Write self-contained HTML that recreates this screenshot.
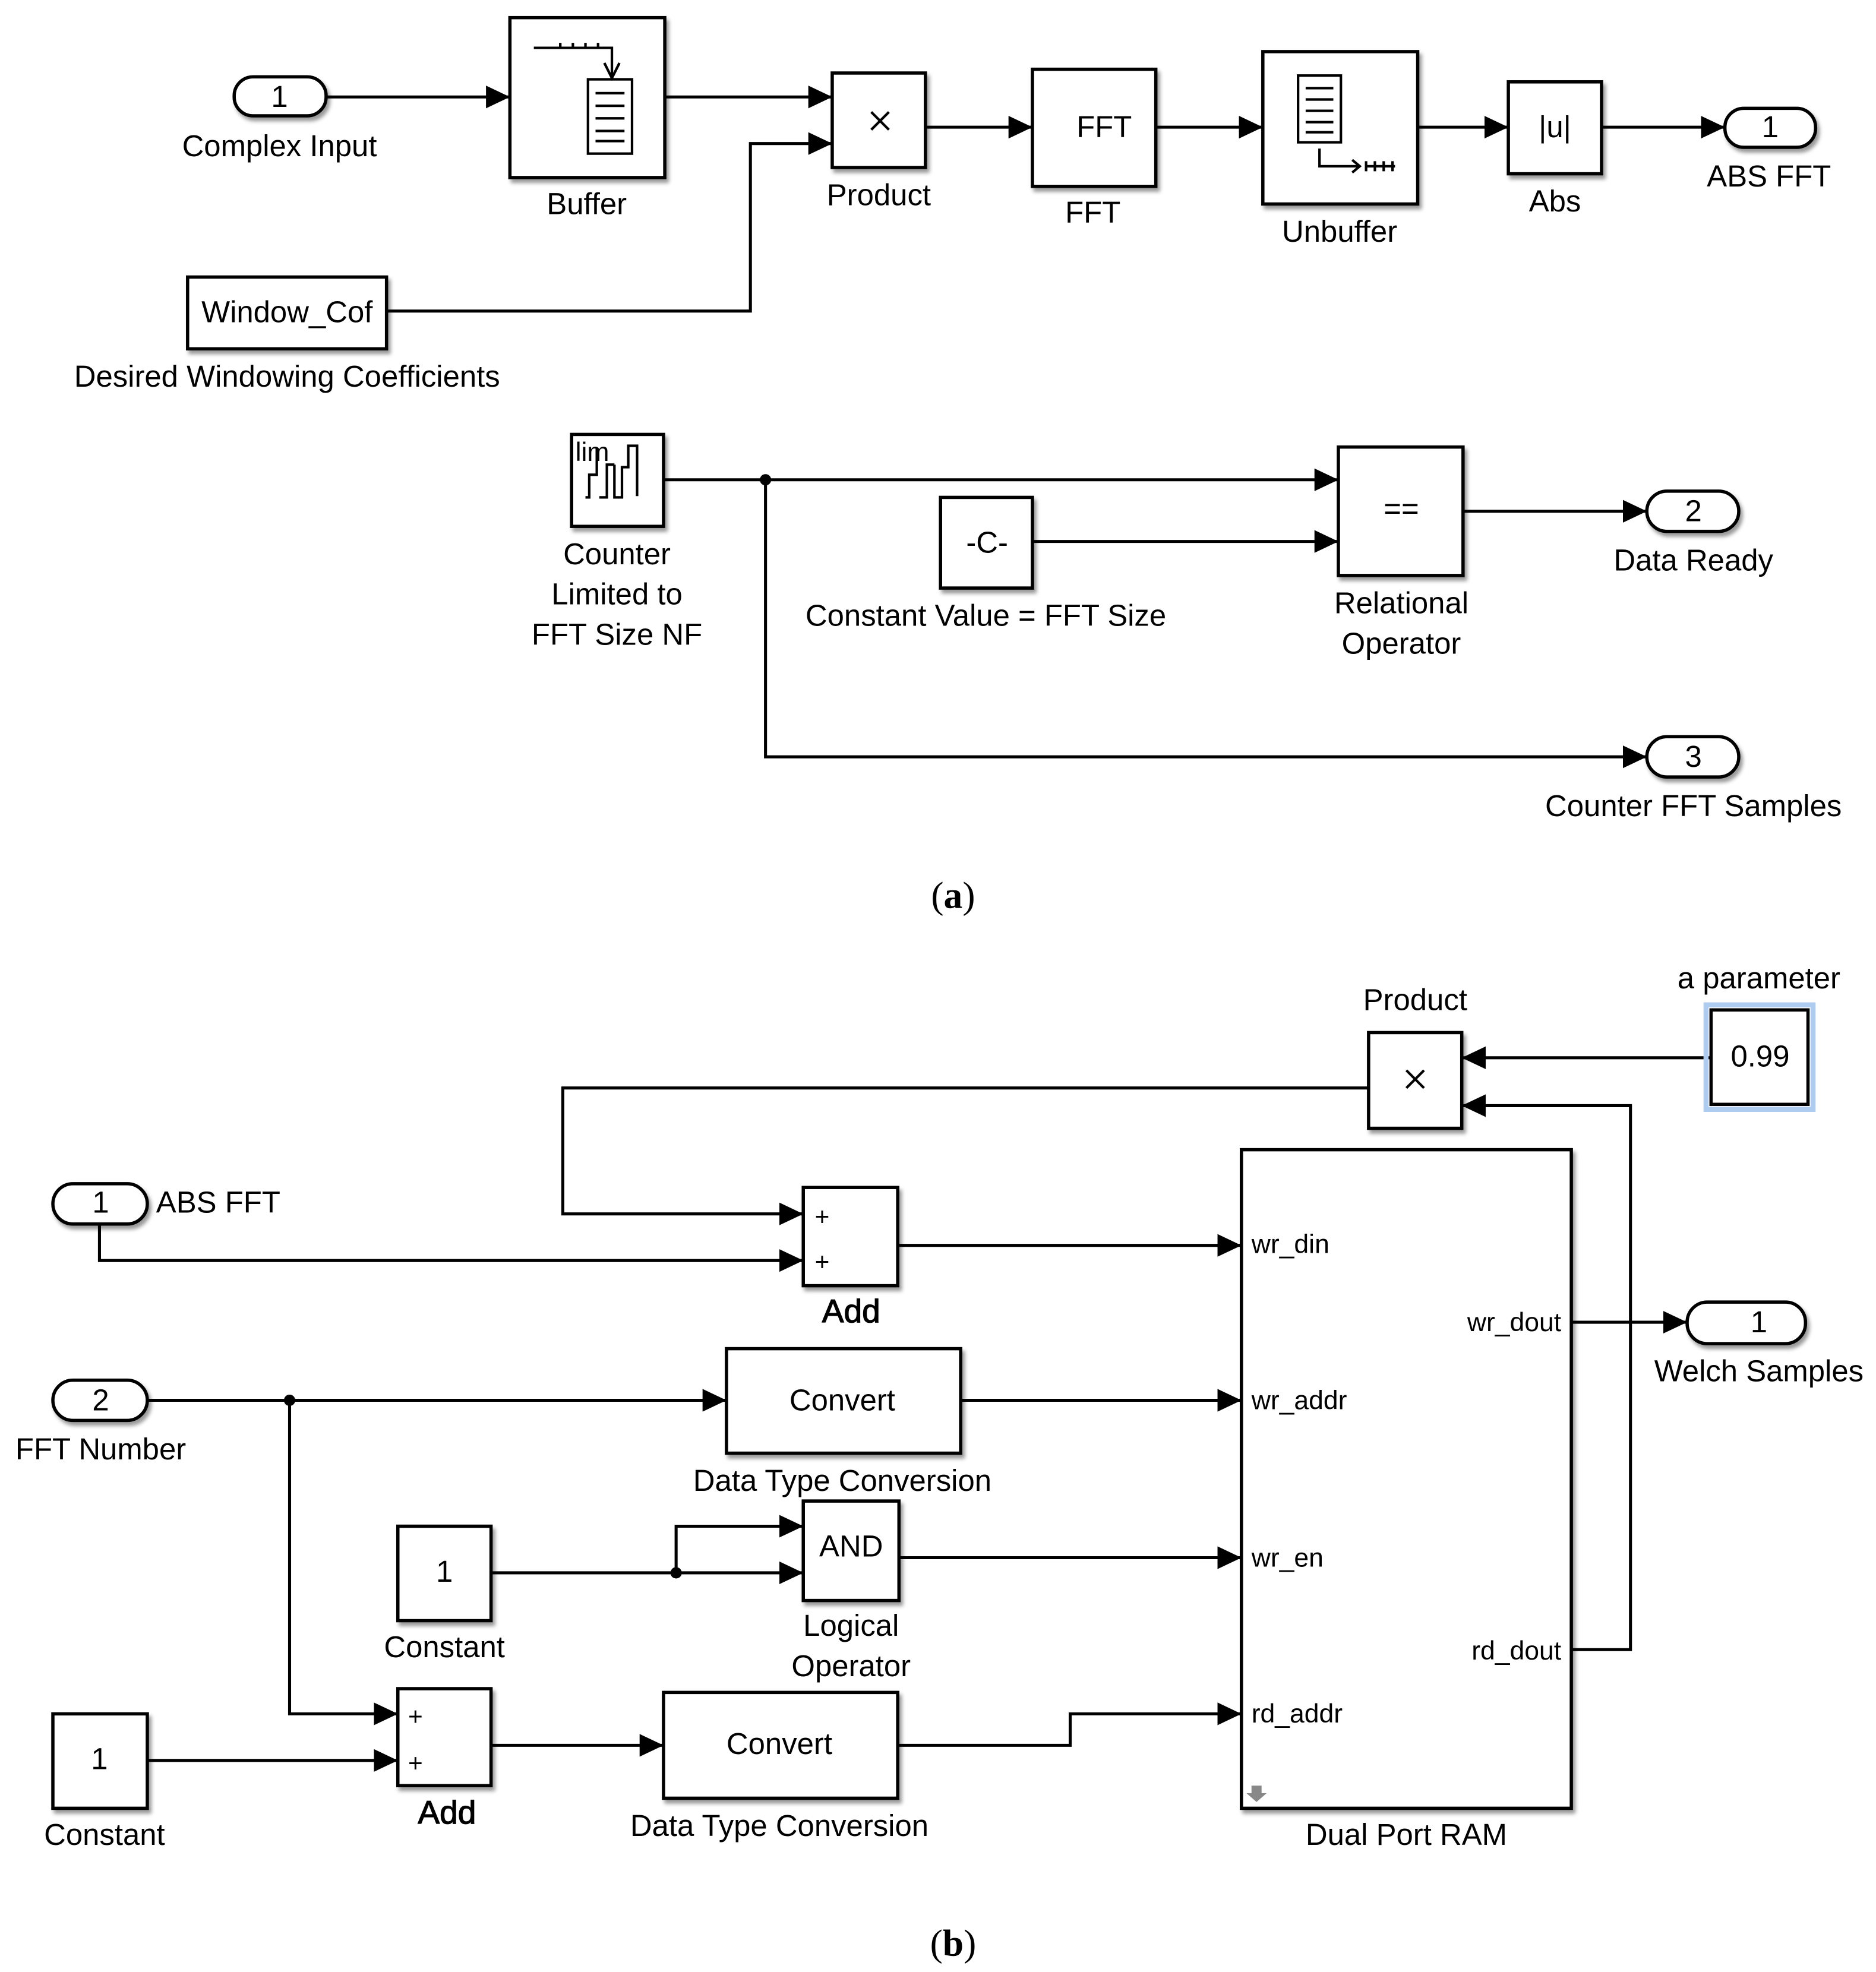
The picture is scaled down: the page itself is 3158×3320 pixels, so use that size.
<!DOCTYPE html>
<html><head><meta charset="utf-8"><style>html,body{margin:0;padding:0;background:#fff}svg{display:block}</style></head><body>
<svg xmlns="http://www.w3.org/2000/svg" width="3158" height="3320" viewBox="0 0 1490 1566" preserveAspectRatio="none" font-family="'Liberation Sans', Arial, sans-serif">
<defs>
<marker id="ar" markerUnits="userSpaceOnUse" markerWidth="20" markerHeight="20" refX="19" refY="10" orient="auto"><path d="M0,1 L19,10 L0,19 Z" fill="#000"/></marker>
<filter id="sh" x="-10%" y="-10%" width="130%" height="130%"><feDropShadow dx="2" dy="3" stdDeviation="1.5" flood-color="#000" flood-opacity="0.4"/></filter>
</defs>
<rect width="1490" height="1566" fill="#fff"/>
<g fill="none" stroke="#000" stroke-width="2.4">
<path d="M259,77 H405" marker-end="url(#ar)"/>
<path d="M528,77 H661" marker-end="url(#ar)"/>
<path d="M307,247 H596 V114 H661" marker-end="url(#ar)"/>
<path d="M735,101 H820" marker-end="url(#ar)"/>
<path d="M918,101 H1003" marker-end="url(#ar)"/>
<path d="M1126,101 H1198" marker-end="url(#ar)"/>
<path d="M1272,101 H1370" marker-end="url(#ar)"/>
<path d="M527,381 H1063" marker-end="url(#ar)"/>
<path d="M608,381 V601 H1308" marker-end="url(#ar)"/>
<path d="M820,430 H1063" marker-end="url(#ar)"/>
<path d="M1162,406 H1308" marker-end="url(#ar)"/>
<path d="M1359,840 H1161" marker-end="url(#ar)"/>
<path d="M1248,1310 H1295 V878 H1161" marker-end="url(#ar)"/>
<path d="M1087,864 H447 V964 H638" marker-end="url(#ar)"/>
<path d="M79,972 V1001 H638" marker-end="url(#ar)"/>
<path d="M713,989 H986" marker-end="url(#ar)"/>
<path d="M1248,1050 H1340" marker-end="url(#ar)"/>
<path d="M117,1112 H577" marker-end="url(#ar)"/>
<path d="M230,1112 V1361 H316" marker-end="url(#ar)"/>
<path d="M763,1112 H986" marker-end="url(#ar)"/>
<path d="M390,1249 H638" marker-end="url(#ar)"/>
<path d="M537,1249 V1212 H638" marker-end="url(#ar)"/>
<path d="M714,1237 H986" marker-end="url(#ar)"/>
<path d="M117,1398 H316" marker-end="url(#ar)"/>
<path d="M390,1386 H527" marker-end="url(#ar)"/>
<path d="M713,1386 H850 V1361 H986" marker-end="url(#ar)"/>
</g>
<g fill="#000"><circle cx="608" cy="381" r="4.5"/><circle cx="230" cy="1112" r="4.5"/><circle cx="537" cy="1249" r="4.5"/></g>
<g fill="#fff" stroke="#000" stroke-width="2.6" filter="url(#sh)">
<rect x="186" y="61" width="73" height="31" rx="15"/>
<rect x="405" y="14" width="123" height="127"/>
<rect x="661" y="58" width="74" height="75"/>
<rect x="149" y="220" width="158" height="57"/>
<rect x="820" y="55" width="98" height="93"/>
<rect x="1003" y="41" width="123" height="121"/>
<rect x="1198" y="65" width="74" height="73"/>
<rect x="1370" y="86" width="72" height="31" rx="15"/>
<rect x="454" y="345" width="73" height="73"/>
<rect x="747" y="395" width="73" height="72"/>
<rect x="1063" y="355" width="99" height="102"/>
<rect x="1308" y="390" width="73" height="32" rx="16"/>
<rect x="1308" y="585" width="73" height="32" rx="16"/>
<rect x="1087" y="820" width="74" height="76"/>
<rect x="42" y="940" width="75" height="32" rx="16"/>
<rect x="638" y="943" width="75" height="78"/>
<rect x="986" y="913" width="262" height="523"/>
<rect x="1340" y="1034" width="94" height="33" rx="16"/>
<rect x="42" y="1096" width="75" height="32" rx="16"/>
<rect x="577" y="1071" width="186" height="83"/>
<rect x="316" y="1212" width="74" height="75"/>
<rect x="638" y="1192" width="76" height="79"/>
<rect x="42" y="1361" width="75" height="75"/>
<rect x="316" y="1341" width="74" height="77"/>
<rect x="527" y="1344" width="186" height="84"/>
</g>
<rect x="1355" y="798" width="85" height="83" fill="none" stroke="#aecbf0" stroke-width="4"/>
<rect x="1359" y="802" width="77" height="75" fill="#fff" stroke="#000" stroke-width="2.6"/>
<g fill="none" stroke="#000" stroke-width="2">
<rect x="467" y="63" width="35" height="59"/>
<path d="M473,74H496M473,84H496M473,94H496M473,104H496M473,112H496"/>
<path d="M424,38 H486 V60 M480,50 L486,62 L492,50 M445,34v4M455,34v4M465,34v4M475,34v4"/>
<rect x="1031" y="60" width="34" height="53"/>
<path d="M1037,70H1059M1037,79H1059M1037,88H1059M1037,97H1059M1037,105H1059"/>
<path d="M1048,118 V132 H1080 M1074,127 L1080,132 L1074,137 M1085,128v8M1092,128v8M1099,128v8M1106,128v8M1085,132H1108"/>
<path d="M465,395 h3 v-18 h6 v-21 M476,395 h6 v-26 h6 M488,369 v26 h6 v-24 h5 v-17 h7 v40"/>
<path d="M692,89 L706,103 M706,89 L692,103 M1117,850 L1131,864 M1131,850 L1117,864"/>
</g>
<path d="M994,1418 h8 v6 h4 l-8,7 l-8,-7 h4 Z" fill="#888"/>
<g font-size="24" text-anchor="middle" fill="#000">
<text x="222" y="85">1</text>
<text x="222" y="124">Complex Input</text>
<text x="466" y="170">Buffer</text>
<text x="698" y="163">Product</text>
<text x="228" y="256">Window_Cof</text>
<text x="228" y="307">Desired Windowing Coefficients</text>
<text x="877" y="109">FFT</text>
<text x="868" y="177">FFT</text>
<text x="1064" y="192">Unbuffer</text>
<text x="1235" y="109">|u|</text>
<text x="1235" y="168">Abs</text>
<text x="1406" y="109">1</text>
<text x="1405" y="148">ABS FFT</text>
<text x="457" y="366" font-size="21" text-anchor="start">lim</text>
<text x="490" y="448">Counter</text>
<text x="490" y="480">Limited to</text>
<text x="490" y="512">FFT Size NF</text>
<text x="784" y="439">-C-</text>
<text x="783" y="497">Constant Value = FFT Size</text>
<text x="1113" y="412">==</text>
<text x="1113" y="487">Relational</text>
<text x="1113" y="519">Operator</text>
<text x="1345" y="414">2</text>
<text x="1345" y="453">Data Ready</text>
<text x="1345" y="609">3</text>
<text x="1345" y="648">Counter FFT Samples</text>
<text x="757" y="721" font-family="'Liberation Serif', serif" font-size="30">(<tspan font-weight="bold">a</tspan>)</text>

<text x="1124" y="802">Product</text>
<text x="1397" y="785">a parameter</text>
<text x="1398" y="847">0.99</text>
<text x="80" y="963">1</text>
<text x="124" y="963" text-anchor="start">ABS FFT</text>
<text x="653" y="973" font-size="20">+</text>
<text x="653" y="1009" font-size="20">+</text>
<text x="676" y="1050" font-size="26" stroke="#000" stroke-width="0.6">Add</text>
<text x="994" y="995" text-anchor="start" font-size="21">wr_din</text>
<text x="994" y="1119" text-anchor="start" font-size="21">wr_addr</text>
<text x="994" y="1244" text-anchor="start" font-size="21">wr_en</text>
<text x="994" y="1368" text-anchor="start" font-size="21">rd_addr</text>
<text x="1240" y="1057" text-anchor="end" font-size="21">wr_dout</text>
<text x="1240" y="1318" text-anchor="end" font-size="21">rd_dout</text>
<text x="1117" y="1465">Dual Port RAM</text>
<text x="1397" y="1058">1</text>
<text x="1397" y="1097">Welch Samples</text>
<text x="80" y="1120">2</text>
<text x="80" y="1159">FFT Number</text>
<text x="669" y="1120">Convert</text>
<text x="669" y="1184">Data Type Conversion</text>
<text x="353" y="1256">1</text>
<text x="353" y="1316">Constant</text>
<text x="676" y="1236">AND</text>
<text x="676" y="1299">Logical</text>
<text x="676" y="1331">Operator</text>
<text x="79" y="1405">1</text>
<text x="83" y="1465">Constant</text>
<text x="330" y="1370" font-size="20">+</text>
<text x="330" y="1407" font-size="20">+</text>
<text x="355" y="1448" font-size="26" stroke="#000" stroke-width="0.6">Add</text>
<text x="619" y="1393">Convert</text>
<text x="619" y="1458">Data Type Conversion</text>
<text x="757" y="1553" font-family="'Liberation Serif', serif" font-size="30">(<tspan font-weight="bold">b</tspan>)</text>
</g>
</svg>
</body></html>
